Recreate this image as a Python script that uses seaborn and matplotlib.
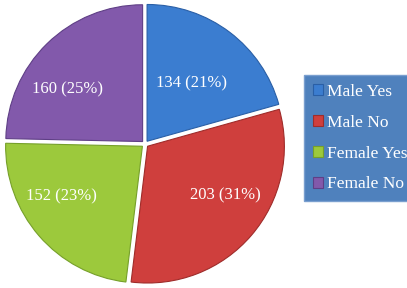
import numpy as np
import matplotlib.pyplot as plt
import seaborn as sns

sns.set_theme(style="white")
plt.rcParams["font.family"] = ["Liberation Serif", "DejaVu Serif"]

categories = ["Male Yes", "Male No", "Female Yes", "Female No"]
counts = [134, 203, 152, 160]
COLORS = ["#3b7dd0", "#cf3f3d", "#9cc93c", "#8259ab"]
EDGES = ["#2a5fa6", "#9f2c2a", "#76a02a", "#5f3f86"]

fig = plt.figure(figsize=(4.07, 2.88), dpi=100)
ax = fig.add_axes([0.0, 0.0, 290 / 407, 1.0])

total = sum(counts)
wedges, _ = ax.pie(counts, colors=COLORS, startangle=90, counterclock=False,
                   explode=[0.025] * 4, radius=1.0,
                   wedgeprops=dict(linewidth=0.8))
for w, ec in zip(wedges, EDGES):
    w.set_edgecolor(ec)

# labels inside each slice (radius factor, angle nudge in degrees)
label_r = [0.56, 0.70, 0.72, 0.69]
label_nudge = [0, 8, -8.5, 10.5]
for w, v, r, d in zip(wedges, counts, label_r, label_nudge):
    ang = np.deg2rad((w.theta1 + w.theta2) / 2 + d)
    ax.text(r * np.cos(ang), r * np.sin(ang), f"{v} ({v / total * 100:.0f}%)",
            ha="center", va="center", color="white", fontsize=12)

ax.set_xlim(-1.06, 1.06)
ax.set_ylim(-1.05, 1.05)
ax.set_aspect("equal")
ax.axis("off")

leg = fig.legend(wedges, categories, loc="upper left",
                 bbox_to_anchor=(304 / 407, 1 - 75 / 288),
                 frameon=True, fontsize=12.5, handlelength=0.6, handleheight=0.6,
                 labelspacing=0.86, borderpad=0.5, handletextpad=0.2,
                 borderaxespad=0, fancybox=False)
leg.get_frame().set_facecolor("#4f81bd")
leg.get_frame().set_edgecolor("#7a9fcf")
leg.get_frame().set_alpha(1)
for t in leg.get_texts():
    t.set_color("white")

fig.savefig("out.png", dpi=100)
